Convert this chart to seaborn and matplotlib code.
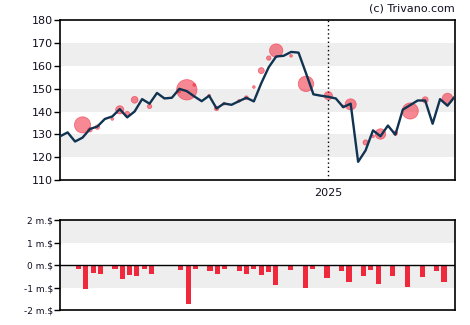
import numpy as np
import pandas as pd
import matplotlib
matplotlib.use("Agg")
import matplotlib.pyplot as plt
import matplotlib.dates as mdates
import seaborn as sns

# ---- data ----
price = [129.2, 130.9, 126.9, 128.6, 132.4, 133.5, 136.8, 137.9, 141.1, 137.5,
         140.1, 145.5, 143.5, 148.2, 145.8, 146.1, 150.0, 149.0, 146.7, 144.6,
         147.0, 141.4, 143.6, 143.0, 144.6, 146.1, 144.5, 152.5, 159.5, 164.2,
         164.5, 166.2, 165.9, 156.9, 147.6, 147.0, 146.5, 145.8, 142.0, 143.5,
         118.0, 123.0, 131.8, 129.2, 133.9, 129.9, 140.9, 142.9, 144.9, 144.9,
         134.7, 145.5, 142.6, 146.7]
start_date = "2024-04-24"

trade_idx = [3, 4, 5, 7, 8, 9, 10, 12, 16, 17, 18, 20, 21, 22, 24, 25, 26, 27,
             28, 29, 31, 33, 36, 38, 39, 41, 42, 43, 45, 47, 49, 52]
trade_price = [134.2, 132.0, 133.2, 136.8, 140.8, 139.0, 145.2, 142.3, 148.8, 149.6,
               151.7, 147.0, 141.4, 143.5, 144.7, 146.1, 150.8, 158.0, 163.5, 166.8,
               164.5, 152.2, 147.0, 142.3, 143.2, 126.5, 129.2, 130.2, 130.6, 140.3,
               145.2, 145.8]
trade_size = [135, 10, 10, 4, 35, 14, 24, 10, 4, 215,
              4, 4, 10, 4, 4, 8, 4, 19, 10, 92,
              4, 124, 35, 4, 64, 14, 4, 57, 10, 135,
              19, 57]

bar_idx = [2, 3, 4, 5, 7, 8, 9, 10, 11, 12, 16, 17, 18, 20, 21, 22, 24, 25, 26,
           27, 28, 29, 31, 33, 34, 36, 38, 39, 41, 42, 43, 45, 47, 49, 51, 52]
bar_val = [-0.15, -1.05, -0.33, -0.38, -0.15, -0.60, -0.42, -0.47, -0.15, -0.38,
           -0.20, -1.73, -0.15, -0.24, -0.38, -0.15, -0.24, -0.38, -0.15,
           -0.42, -0.29, -0.87, -0.20, -1.00, -0.15, -0.56, -0.24, -0.74, -0.47,
           -0.20, -0.83, -0.47, -0.96, -0.51, -0.24, -0.74]

y_ticks_top = [110, 120, 130, 140, 150, 160, 170, 180]
y_ticks_bot = [-2, -1, 0, 1, 2]
y_labels_bot = ["-2 m.$", "-1 m.$", "0 m.$", "1 m.$", "2 m.$"]

# ---- frames ----
dates = pd.date_range(start_date, periods=len(price), freq="7D")
df_line = pd.DataFrame({"date": dates, "price": price})
df_trade = pd.DataFrame({"date": dates[trade_idx], "price": trade_price, "size": trade_size})
slots = np.arange(len(price))
vals = np.zeros(len(price))
vals[bar_idx] = bar_val
df_bar = pd.DataFrame({"slot": slots, "val": vals})

LINE = "#0f3350"
RED = "#f0283c"
BAND = "#eeeeee"
TXT = "#101020"

fig = plt.figure(figsize=(4.7, 3.25), dpi=100)
ax = fig.add_axes([0.128, 0.446, 0.840, 0.491])
axb = fig.add_axes([0.128, 0.045, 0.840, 0.278])

# ---- top chart ----
for lo in (120, 140, 160):
    ax.axhspan(lo, lo + 10, color=BAND, zorder=0, lw=0)
ax.axvline(pd.Timestamp("2025-01-01"), color="black", ls=(0, (1, 2)), lw=1, zorder=1)
sns.scatterplot(data=df_trade, x="date", y="price", s=df_trade["size"].values,
                color=RED, alpha=0.55, edgecolor=RED, linewidth=0.6, ax=ax, zorder=2, legend=False)
sns.lineplot(data=df_line, x="date", y="price", color=LINE, lw=1.7, ax=ax, zorder=3)
ax.set_xlim(dates[0], dates[-1])
ax.set_ylim(110, 180)
ax.set_yticks(y_ticks_top)
ax.set_xticks([pd.Timestamp("2025-01-01")])
ax.xaxis.set_major_formatter(mdates.DateFormatter("%Y"))
ax.tick_params(axis="y", labelsize=8, length=4, width=1, colors="black", labelcolor=TXT, pad=1)
ax.tick_params(axis="x", labelsize=8, length=0, labelcolor=TXT, pad=6)
ax.set_xlabel("")
ax.set_ylabel("")
for s in ax.spines.values():
    s.set_linewidth(1.2)
    s.set_color("black")
fig.text(0.968, 0.975, "(c) Trivano.com", ha="right", va="center", fontsize=8, color=TXT)

# ---- bottom chart ----
axb.axhspan(1, 2, color=BAND, zorder=0, lw=0)
axb.axhspan(-1, 0, color=BAND, zorder=0, lw=0)
sns.barplot(data=df_bar, x="slot", y="val", color=RED, saturation=1, width=0.7, ax=axb, zorder=2)
axb.axhline(0, color="black", lw=1, zorder=3)
axb.set_xlim(-0.5, len(price) - 0.5)
axb.set_ylim(-2, 2)
axb.set_yticks(y_ticks_bot)
axb.set_yticklabels(y_labels_bot)
axb.set_xticks([])
axb.set_xlabel("")
axb.set_ylabel("")
axb.tick_params(axis="y", labelsize=6.5, length=4, width=1, labelcolor=TXT, pad=1)
for s in axb.spines.values():
    s.set_linewidth(1.2)
    s.set_color("black")

fig.savefig("out.png", dpi=100)
